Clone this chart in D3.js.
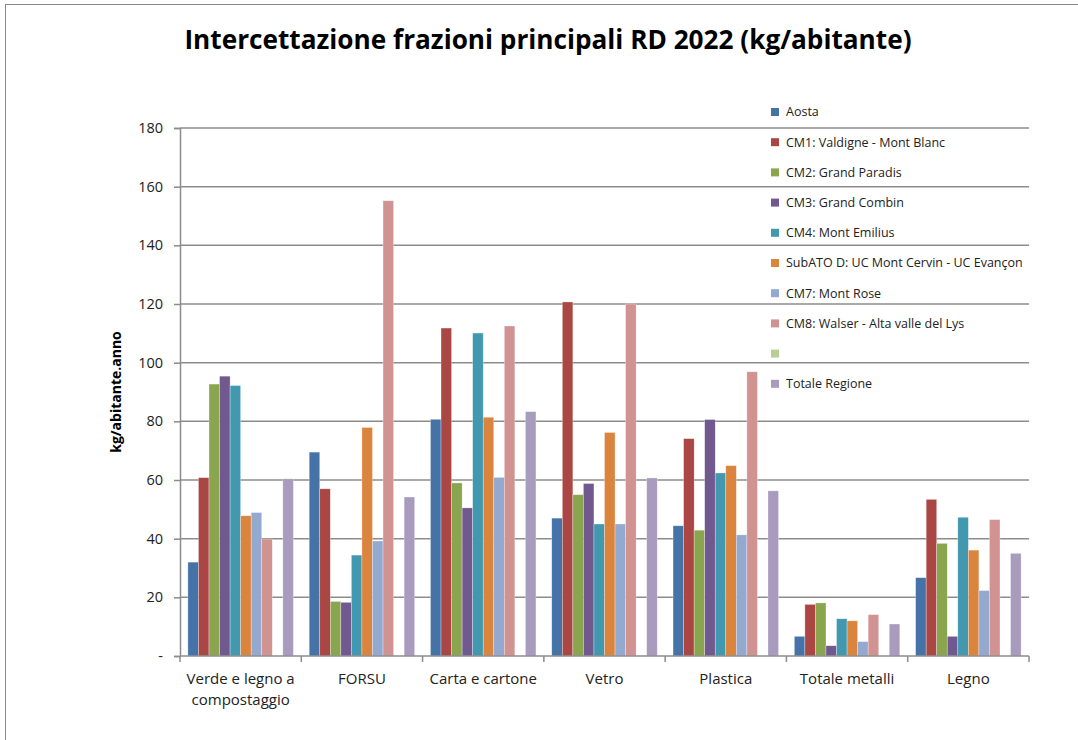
<!DOCTYPE html>
<html>
<head>
<meta charset="utf-8">
<script src="https://cdn.jsdelivr.net/npm/d3@7"></script>
<style>
  body { margin: 0; background: #fff; }
  text { font-family: "Open Sans", "DejaVu Sans", sans-serif; }
</style>
</head>
<body>
<div id="chart"></div>
<script>
// categories and series
var categories = ["Verde e legno a compostaggio", "FORSU", "Carta e cartone", "Vetro", "Plastica", "Totale metalli", "Legno"];
var seriesNames = ["Aosta", "CM1: Valdigne - Mont Blanc", "CM2: Grand Paradis", "CM3: Grand Combin", "CM4: Mont Emilius",
    "SubATO D: UC Mont Cervin - UC Evançon", "CM7: Mont Rose", "CM8: Walser - Alta valle del Lys", "", "Totale Regione"];
var colors = ["#4572a7", "#aa4643", "#89a54e", "#71588f", "#4198af", "#db843d", "#93a9cf", "#d19392", "#b9cd96", "#a99bbd"];

// values per series, one entry per category
var aosta    = [32.0, 69.5, 80.7, 47.0, 44.4, 6.7, 26.7];
var cm1      = [60.8, 57.0, 111.8, 120.7, 74.1, 17.6, 53.4];
var cm2      = [92.7, 18.6, 59.0, 55.0, 42.9, 18.1, 38.4];
var cm3      = [95.4, 18.3, 50.5, 58.8, 80.6, 3.5, 6.7];
var cm4      = [92.2, 34.4, 110.1, 45.0, 62.4, 12.7, 47.3];
var subatoD  = [47.8, 77.9, 81.4, 76.2, 64.9, 12.0, 36.1];
var cm7      = [48.9, 39.2, 60.9, 45.0, 41.3, 4.9, 22.3];
var cm8      = [39.9, 155.2, 112.5, 120.0, 96.9, 14.1, 46.5];
var empty    = [null, null, null, null, null, null, null];
var totale   = [60.4, 54.2, 83.3, 60.7, 56.3, 10.9, 35.0];
var seriesValues = [aosta, cm1, cm2, cm3, cm4, subatoD, cm7, cm8, empty, totale];

var yTicks = [0, 20, 40, 60, 80, 100, 120, 140, 160, 180];

var svgWidth = 1078, svgHeight = 740;
var margin = { top: 128, right: 49, bottom: 84, left: 180 };
var width = svgWidth - margin.left - margin.right;
var height = svgHeight - margin.top - margin.bottom;

var root = d3.select("#chart").append("svg")
    .attr("width", svgWidth)
    .attr("height", svgHeight);

// outer frame
root.append("rect")
    .attr("x", 5.5).attr("y", 4.5)
    .attr("width", svgWidth).attr("height", svgHeight)
    .attr("fill", "none").attr("stroke", "#888").attr("stroke-width", 1);

// title
root.append("text")
    .attr("x", 548).attr("y", 49)
    .attr("text-anchor", "middle")
    .attr("font-size", 26.2)
    .attr("font-weight", "bold")
    .attr("fill", "#000")
    .text("Intercettazione frazioni principali RD 2022 (kg/abitante)");

var svg = root.append("g")
    .attr("transform", "translate(" + margin.left + "," + margin.top + ")");

var x0 = d3.scaleBand().domain(categories).range([0, width]).padding(0);
var x1 = d3.scaleBand().domain(d3.range(seriesNames.length)).range([0, x0.bandwidth()])
    .paddingInner(0).paddingOuter(0.75);
var y = d3.scaleLinear().domain([0, 180]).range([height, 0]);

// gridlines
svg.append("g").selectAll("line")
    .data(yTicks.slice(1))
    .enter().append("line")
    .attr("x1", 0).attr("x2", width)
    .attr("y1", function (d) { return y(d); })
    .attr("y2", function (d) { return y(d); })
    .attr("stroke", "#8c8c8c").attr("stroke-width", 1.5);

// bars
var groups = svg.append("g").selectAll("g")
    .data(seriesValues)
    .enter().append("g")
    .attr("fill", function (d, i) { return colors[i]; });

groups.selectAll("rect")
    .data(function (vals, si) {
        return vals.map(function (v, ci) { return { s: si, c: categories[ci], v: v }; })
            .filter(function (d) { return d.v != null; });
    })
    .enter().append("rect")
    .attr("x", function (d) { return x0(d.c) + x1(d.s); })
    .attr("y", function (d) { return y(d.v); })
    .attr("width", x1.bandwidth())
    .attr("height", function (d) { return height - y(d.v); })
    .attr("stroke", "#fff").attr("stroke-opacity", 0.5).attr("stroke-width", 0.6);

// y axis
var yAxis = svg.append("g")
    .call(d3.axisLeft(y).tickValues(yTicks).tickSize(6).tickPadding(11)
        .tickFormat(function (d) { return d === 0 ? "-" : d; }));
yAxis.select(".domain").attr("stroke", "#8c8c8c").attr("stroke-width", 1.5);
yAxis.selectAll(".tick line").attr("stroke", "#8c8c8c").attr("stroke-width", 1.5);
yAxis.selectAll(".tick text").attr("font-size", 14.5).attr("fill", "#222")
    .attr("font-family", "Open Sans, sans-serif");

// x axis: ticks at category boundaries
var xAxisG = svg.append("g").attr("transform", "translate(0," + height + ")");
xAxisG.append("line").attr("x1", 0).attr("x2", width)
    .attr("stroke", "#8c8c8c").attr("stroke-width", 1.5);
xAxisG.selectAll("line.tk")
    .data(d3.range(categories.length + 1))
    .enter().append("line")
    .attr("class", "tk")
    .attr("x1", function (i) { return i * x0.step(); })
    .attr("x2", function (i) { return i * x0.step(); })
    .attr("y1", 0).attr("y2", 6)
    .attr("stroke", "#8c8c8c").attr("stroke-width", 1.5);

var xLabels = {
    "Verde e legno a compostaggio": ["Verde e legno a", "compostaggio"]
};
xAxisG.selectAll("text.cat")
    .data(categories)
    .enter().append("text")
    .attr("class", "cat")
    .attr("text-anchor", "middle")
    .attr("font-size", 15)
    .attr("fill", "#222")
    .attr("transform", function (d) { return "translate(" + (x0(d) + x0.bandwidth() / 2) + ",28)"; })
    .each(function (d) {
        var lines = xLabels[d] || [d];
        var t = d3.select(this);
        lines.forEach(function (l, i) {
            t.append("tspan").attr("x", 0).attr("dy", i === 0 ? 0 : 21).text(l);
        });
    });

// y axis title
root.append("text")
    .attr("transform", "translate(121,392) rotate(-90)")
    .attr("text-anchor", "middle")
    .attr("font-size", 14)
    .attr("font-weight", "bold")
    .attr("fill", "#000")
    .text("kg/abitante.anno");

// legend
var legend = root.append("g").attr("transform", "translate(771,112)");
var rows = legend.selectAll("g")
    .data(seriesNames)
    .enter().append("g")
    .attr("transform", function (d, i) { return "translate(0," + (i * 30.2) + ")"; });
rows.append("rect")
    .attr("x", 0).attr("y", -4)
    .attr("width", 8).attr("height", 8)
    .attr("fill", function (d, i) { return colors[i]; });
rows.append("text")
    .attr("x", 15).attr("y", 0)
    .attr("dy", "0.35em")
    .attr("font-size", 12.5)
    .attr("fill", "#222")
    .text(function (d) { return d; });
</script>
</body>
</html>
